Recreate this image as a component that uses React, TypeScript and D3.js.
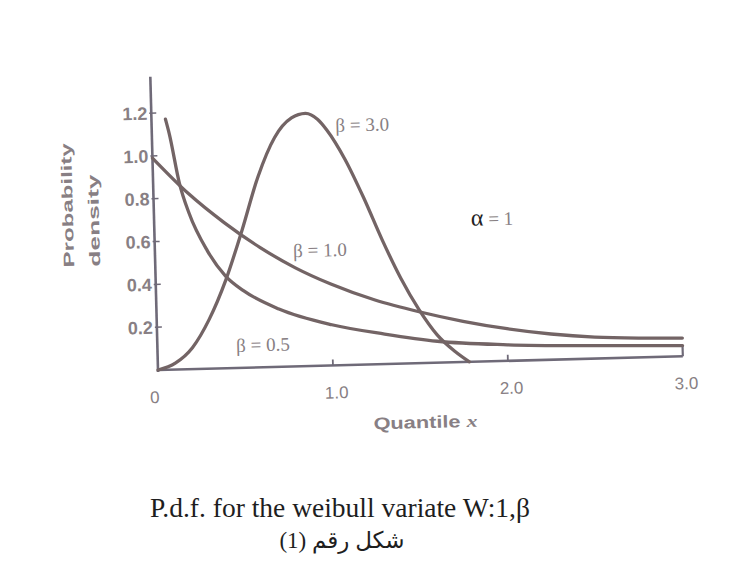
import React from 'react';
import * as d3 from 'd3';

// values (Weibull pdf, alpha = 1)
const b3X = [0, 0.1, 0.2, 0.3, 0.4, 0.5, 0.6, 0.7, 0.8, 0.88, 0.95, 1.0, 1.1, 1.2, 1.3, 1.4, 1.5, 1.6, 1.7, 1.78];
const b3Y = [0, 0.03, 0.1, 0.23, 0.41, 0.64, 0.89, 1.07, 1.16, 1.18, 1.15, 1.1, 0.96, 0.78, 0.58, 0.4, 0.25, 0.13, 0.05, 0.0];

const b1X = [0, 0.2, 0.4, 0.6, 0.8, 1.0, 1.25, 1.5, 1.75, 2.0, 2.25, 2.5, 2.75, 3.0];
const b1Y = [0.99, 0.82, 0.68, 0.56, 0.46, 0.38, 0.3, 0.24, 0.19, 0.15, 0.12, 0.1, 0.09, 0.085];

const b05X = [0.08, 0.1, 0.15, 0.2, 0.3, 0.4, 0.5, 0.7, 1.0, 1.3, 1.6, 2.0, 2.5, 3.0];
const b05Y = [1.17, 1.1, 0.87, 0.73, 0.55, 0.43, 0.36, 0.27, 0.19, 0.14, 0.1, 0.075, 0.06, 0.05];

const yTicks = [0.2, 0.4, 0.6, 0.8, 1.0, 1.2];
const yTickLabels = ['0.2', '0.4', '0.6', '0.8', '1.0', '1.2'];
const xTicks = [0, 1, 2, 3];
const xTickLabels = ['0', '1.0', '2.0', '3.0'];

const curveLabels = [
  {text: 'β = 3.0', x: 1.05, y: 1.09},
  {text: 'β = 1.0', x: 0.79, y: 0.51},
  {text: 'β = 0.5', x: 0.45, y: 0.075},
];

const title = 'P.d.f. for the weibull variate W:1,β';
const subtitle = 'شكل رقم (1)';

function App() {
  const x = d3.scaleLinear().domain([0, 3]).range([158, 683]);
  const y = d3.scaleLinear().domain([0, 1.2]).range([370, 113]);

  const line = d3.line<[number, number]>()
    .x(d => x(d[0]))
    .y(d => y(d[1]))
    .curve(d3.curveMonotoneX);

  const series = [
    d3.zip(b3X, b3Y) as [number, number][],
    d3.zip(b1X, b1Y) as [number, number][],
    d3.zip(b05X, b05Y) as [number, number][],
  ];

  const curveColor = '#736465';
  const axisColor = '#6f6a78';
  const textGrey = '#887f84';
  const sans = 'Liberation Sans, Arial, sans-serif';

  return (
    <svg width={742} height={577} style={{position: 'absolute', left: 0, top: 0, background: '#fff'}}>
      {/* the scan is tilted a little, so the whole plot is rotated */}
      <g transform={`rotate(-1.5, ${x(0)}, ${y(0)})`}>
        {/* axes */}
        <line x1={x(0)} x2={x(0)} y1={y(0) + 2} y2={y(1.37)} stroke={axisColor} strokeWidth={2.6} />
        <line x1={x(0)} x2={x(3)} y1={y(0)} y2={y(0)} stroke={axisColor} strokeWidth={2.6} />
        <line x1={x(3)} x2={x(3)} y1={y(0)} y2={y(b05Y[b05Y.length - 1])} stroke={axisColor} strokeWidth={2.2} />

        {yTicks.map((t, i) => (
          <g key={'yt' + i}>
            <line x1={x(0) - 2} x2={x(0) + 5} y1={y(t)} y2={y(t)} stroke={axisColor} strokeWidth={1.5} />
            <text x={x(0) - 4} y={y(t)} dy="0.36em" textAnchor="end" fontFamily={sans}
              fontSize={18} fontWeight="bold" fill={textGrey}>{yTickLabels[i]}</text>
          </g>
        ))}

        {xTicks.map((t, i) => (
          <g key={'xt' + i}>
            {t > 0 && t < 3 && (
              <line x1={x(t)} x2={x(t)} y1={y(0)} y2={y(0) - 6} stroke={axisColor} strokeWidth={1.8} />
            )}
            <text x={x(t) + (t === 0 ? -4 : 3)} y={y(0) + 33} textAnchor="middle" fontFamily={sans}
              fontSize={17} fill={textGrey}>{xTickLabels[i]}</text>
          </g>
        ))}

        {/* curves */}
        {series.map((s, i) => (
          <path key={'c' + i} d={line(s) || ''} fill="none" stroke={curveColor}
            strokeWidth={3.3} strokeLinecap="round" strokeLinejoin="round" />
        ))}

        {curveLabels.map((l, i) => (
          <text key={'cl' + i} x={x(l.x)} y={y(l.y)} fontFamily="Liberation Serif, serif"
            fontSize={19} fill={textGrey}>{l.text}</text>
        ))}

        <text x={x(1.81)} y={y(0.635)} fontFamily="Liberation Serif, serif" fontSize={19}>
          <tspan fill="#222" fontSize={24}>α</tspan>
          <tspan fill={textGrey}> = 1</tspan>
        </text>

        {/* axis titles */}
        <text x={x(1.52)} y={y(0) + 65} textAnchor="middle" fontFamily={sans} fontSize={17}
          fontWeight="bold" fill={textGrey} textLength={104} lengthAdjust="spacingAndGlyphs">
          Quantile <tspan fontStyle="italic" fontFamily="Liberation Serif, serif">x</tspan>
        </text>
        <text transform="translate(77, 265) rotate(-90)" fontFamily={sans} fontSize={15}
          fontWeight="bold" fill={textGrey} textLength={124} lengthAdjust="spacingAndGlyphs">Probability</text>
        <text transform="translate(103, 265) rotate(-90)" fontFamily={sans} fontSize={15}
          fontWeight="bold" fill={textGrey} textLength={92} lengthAdjust="spacingAndGlyphs">density</text>
      </g>

      <text x={340} y={517} textAnchor="middle" fontFamily="Liberation Serif, Times New Roman, serif"
        fontSize={27.5} fill="#1e1e1e">{title}</text>
      <text x={342} y={548} textAnchor="middle" direction="rtl"
        fontFamily="Liberation Serif, DejaVu Sans, serif" fontSize={23} fill="#1e1e1e">{subtitle}</text>
    </svg>
  );
}

export default App;
